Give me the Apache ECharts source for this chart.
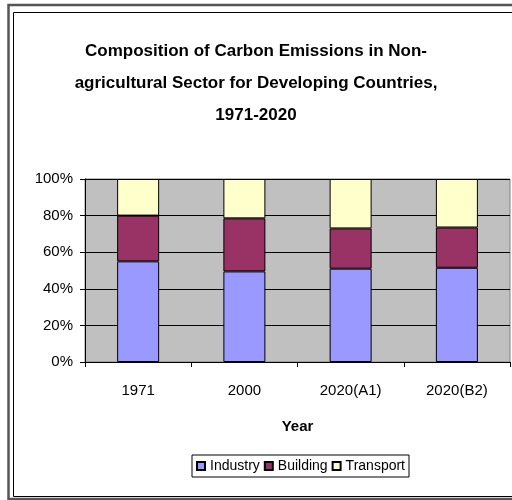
<!DOCTYPE html>
<html>
<head>
<meta charset="utf-8">
<script src="https://cdn.jsdelivr.net/npm/echarts@6/dist/echarts.min.js"></script>
<style>
  html, body { margin: 0; padding: 0; background: #fff; }
  #chart { width: 512px; height: 500px; }
</style>
</head>
<body>
<div id="chart"></div>
<script>
  // data (percent of total)
  const years = ['1971', '2000', '2020(A1)', '2020(B2)']
  const industry = [55, 49.5, 51, 51.5]
  const building = [25, 29, 22, 22]
  const transport = [20, 21.5, 27, 26.5]
  const seriesNames = ['Industry', 'Building', 'Transport']
  const seriesColors = ['#9999FF', '#993366', '#FFFFCC']
  const titleText = 'Composition of Carbon Emissions in Non-\nagricultural Sector for Developing Countries,\n1971-2020'

  const font = "'Liberation Sans', Arial, sans-serif"

  function barSeries(name, data, color) {
    return {
      name: name,
      type: 'bar',
      stack: 'total',
      barWidth: 42,
      data: data,
      itemStyle: {
        color: color,
        borderColor: '#000',
        borderWidth: 1
      }
    }
  }

  const chart = echarts.init(document.getElementById('chart'), null, {renderer: 'canvas'})
  chart.setOption({
    animation: false,
    backgroundColor: '#fff',
    textStyle: {fontFamily: font, color: '#000'},
    title: {
      text: titleText,
      left: 'center',
      top: 30,
      textStyle: {
        fontFamily: font,
        fontSize: 17,
        fontWeight: 'bold',
        lineHeight: 32,
        color: '#000'
      }
    },
    legend: {
      data: seriesNames,
      left: 192,
      top: 455,
      itemWidth: 8,
      itemHeight: 8,
      itemGap: 4,
      padding: [4, 4],
      borderColor: '#000',
      borderWidth: 1,
      textStyle: {fontFamily: font, fontSize: 14, color: '#000'},
      icon: 'rect'
    },
    grid: {
      left: 85,
      right: 2,
      top: 179,
      bottom: 138,
      show: true,
      backgroundColor: '#C0C0C0',
      borderColor: '#808080',
      borderWidth: 1
    },
    xAxis: {
      type: 'category',
      data: years,
      name: 'Year',
      nameLocation: 'middle',
      nameGap: 57,
      nameTextStyle: {fontFamily: font, fontSize: 15, fontWeight: 'bold', color: '#000'},
      axisLine: {lineStyle: {color: '#000'}},
      axisTick: {show: true, length: 5, lineStyle: {color: '#000'}},
      axisLabel: {fontFamily: font, fontSize: 15, color: '#000', margin: 21}
    },
    yAxis: {
      type: 'value',
      min: 0,
      max: 100,
      interval: 20,
      axisLine: {show: true, lineStyle: {color: '#000'}},
      axisTick: {show: true, length: 5, lineStyle: {color: '#000'}},
      axisLabel: {formatter: '{value}%', fontFamily: font, fontSize: 15, color: '#000', margin: 12},
      splitLine: {lineStyle: {color: '#000', width: 1}}
    },
    graphic: [
      {
        type: 'rect',
        shape: {x: 8.5, y: 5, width: 560, height: 494},
        style: {fill: null, stroke: '#555', lineWidth: 2.5},
        silent: true
      },
      {
        type: 'rect',
        shape: {x: 13.5, y: 12.5, width: 560, height: 484},
        style: {fill: null, stroke: '#000', lineWidth: 1},
        silent: true
      }
    ],
    series: [
      barSeries(seriesNames[0], industry, seriesColors[0]),
      barSeries(seriesNames[1], building, seriesColors[1]),
      barSeries(seriesNames[2], transport, seriesColors[2])
    ]
  })
</script>
</body>
</html>
